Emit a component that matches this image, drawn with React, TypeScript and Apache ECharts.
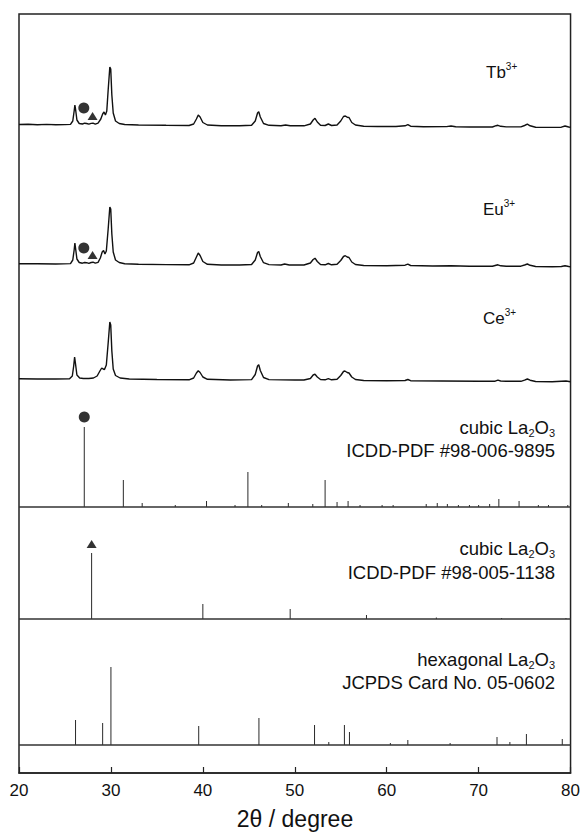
import React, { useEffect, useRef } from "react";
import * as echarts from "echarts";

const FONT = "'Liberation Sans', Arial, Helvetica, sans-serif";

// x axis (2θ, degree)
const xMin = 20;
const xMax = 80;
const xStep = 10;

// vertical offsets of each pattern (same units as the intensities)
const offsetTb = 648;
const offsetEu = 509;
const offsetCe = 394;
const offsetCubicA = 266;
const offsetCubicB = 154;
const offsetHex = 28;
const yTop = 759;

// measured XRD traces: [2θ, intensity a.u.]
const traceTb: number[][] = [
  [20, 0.5], [21, 0.8], [22, 0.3], [23, 0.6], [24, 0.2], [25, 0.4], [25.6, 0.6], [25.85, 4], [26.0, 14], [26.08, 20],
  [26.15, 16], [26.3, 5], [26.55, 1.5], [26.9, 1], [27.15, 1.8], [27.35, 1.5], [27.6, 0.8], [27.85, 1.6], [28.05, 1.9],
  [28.3, 0.9], [28.6, 1.8], [28.9, 6], [29.1, 11], [29.25, 13], [29.4, 10], [29.55, 14], [29.7, 35], [29.88, 58],
  [29.98, 56], [30.1, 30], [30.25, 12], [30.5, 4], [30.9, 1.5], [31.5, 0.5], [33, 0], [36, -0.3], [38.5, -0.5],
  [39.0, 1], [39.3, 6], [39.5, 10], [39.7, 8], [40.0, 2.5], [40.5, 0], [42, -0.8], [44, -0.8], [45.3, -0.3],
  [45.7, 4], [45.95, 12], [46.08, 13.3], [46.25, 8], [46.6, 1.5], [47.2, -0.3], [48.5, -0.7], [49.0, 0], [49.5, -0.8],
  [51.0, -0.8], [51.7, 1], [52.0, 5], [52.2, 6.7], [52.45, 3], [52.8, -0.2], [53.3, -0.5], [53.65, 1], [54.0, -0.5],
  [54.6, 0], [55.0, 4], [55.3, 8.5], [55.5, 9], [55.7, 7.8], [55.9, 7.5], [56.2, 2.5], [56.6, 0], [57.5, -1.3],
  [59, -1.5], [61, -1.5], [62.0, -0.8], [62.3, 0.3], [62.6, -1.2], [64, -1.8], [66.5, -1.6], [67.0, -1], [67.5, -1.8],
  [69, -2], [71.5, -2], [71.9, -0.7], [72.1, -0.3], [72.4, -1.3], [73, -1.9], [74.6, -1.9], [75.0, -0.5], [75.3, 0.8],
  [75.6, -0.8], [76.2, -2.2], [78, -2.4], [79.0, -2.2], [79.4, -1], [79.8, -2], [80, -2.3],
];

const traceEu: number[][] = [
  [20, 0.3], [22, 0.2], [24, 0], [25.6, 0.4], [25.85, 4], [26.0, 14], [26.08, 21], [26.15, 16], [26.3, 5], [26.55, 1.5],
  [26.9, 0.8], [27.15, 1.5], [27.35, 1.3], [27.6, 0.6], [27.85, 1.5], [28.05, 1.8], [28.3, 0.8], [28.6, 1.6],
  [28.85, 6], [29.05, 12], [29.2, 13.5], [29.35, 10], [29.5, 13], [29.7, 35], [29.88, 57], [29.98, 55], [30.1, 30],
  [30.25, 12], [30.5, 4], [30.9, 1.5], [31.5, 0.3], [33, -0.3], [36, -0.6], [38.5, -0.8], [39.0, 1], [39.3, 7],
  [39.5, 11], [39.7, 8.5], [40.0, 2.5], [40.5, -0.3], [42, -1], [44, -1], [45.3, -0.5], [45.7, 4], [45.95, 11.5],
  [46.08, 12.5], [46.25, 7.5], [46.6, 1.3], [47.2, -0.6], [48.5, -1], [48.9, 0], [49.4, -1], [51.0, -1], [51.7, 1],
  [52.0, 4.5], [52.2, 5.8], [52.45, 2.5], [52.8, -0.5], [53.3, -0.8], [53.65, 0.5], [54.0, -0.8], [54.6, -0.3],
  [55.0, 3.5], [55.3, 7.5], [55.5, 8.3], [55.7, 7], [55.9, 6.5], [56.2, 2], [56.6, -0.5], [57.5, -1.5], [60, -1.8],
  [62.0, -1.2], [62.3, -0.2], [62.6, -1.5], [65, -2], [67, -1.8], [69, -2.2], [71.5, -2.3], [71.9, -1.3], [72.1, -0.8],
  [72.4, -1.8], [73, -2.2], [74.6, -2.2], [75.0, -1], [75.3, 0], [75.6, -1.3], [76.2, -2.5], [78, -2.7], [79.0, -2.5],
  [79.4, -1.7], [79.8, -2.5], [80, -2.8],
];

const traceCe: number[][] = [
  [20, 0.3], [22, 0], [24, 0], [25.5, 0.3], [25.8, 3], [25.95, 13], [26.05, 22], [26.15, 15], [26.3, 4], [26.6, 1],
  [27, 0.5], [27.6, 0.5], [28.1, 1], [28.5, 3], [28.8, 8], [29.0, 11], [29.15, 10], [29.3, 9.5], [29.5, 14],
  [29.7, 36], [29.88, 57], [29.98, 54], [30.1, 28], [30.25, 10], [30.5, 3.5], [31, 1], [32, 0], [35, -0.5],
  [38.5, -0.8], [39.0, 1], [39.3, 6], [39.5, 8.3], [39.7, 6.5], [40.0, 2], [40.5, -0.3], [43, -1], [45.3, -0.6],
  [45.7, 4.5], [45.95, 13], [46.08, 14.3], [46.25, 8.5], [46.6, 1.5], [47.2, -0.6], [50, -1], [51.0, -1], [51.7, 0.5],
  [52.0, 4], [52.2, 4.8], [52.45, 2], [52.8, -0.5], [53.3, -0.8], [53.65, 0.3], [54.0, -0.8], [54.6, -0.3], [55.0, 3.5],
  [55.3, 7.5], [55.45, 8], [55.7, 6.5], [55.9, 6], [56.2, 2], [56.6, -0.5], [57.5, -1.5], [60, -1.8], [62.0, -1.5],
  [62.3, -0.5], [62.6, -1.7], [66, -2], [70, -2.3], [71.8, -2.2], [72.1, -1.2], [72.4, -2], [73, -2.3], [74.6, -2.3],
  [75.0, -1.2], [75.3, 0], [75.6, -1.2], [76.2, -2.5], [78, -2.7], [79.5, -2], [80, -2.8],
];

// reference patterns: [2θ, relative intensity]
const cubicA: number[][] = [
  [27.1, 80], [31.35, 27], [33.4, 4], [37.0, 2], [40.4, 6], [43.5, 2], [44.9, 35], [46.4, 2], [49.3, 4], [51.96, 3],
  [53.3, 27], [54.6, 5], [55.8, 6], [57.1, 2], [59.5, 2], [60.7, 2], [64.3, 3], [65.5, 4], [66.6, 3], [67.8, 2],
  [69.0, 2], [70.0, 2], [71.2, 3], [72.2, 8], [74.4, 6], [76.5, 2], [77.6, 2], [79.7, 2],
];
const cubicB: number[][] = [
  [27.9, 66], [40.0, 15], [49.5, 10], [57.8, 4], [65.4, 1.5], [72.5, 1], [79.5, 1],
];
const hexPattern: number[][] = [
  [26.15, 25], [29.1, 22], [30.0, 78], [39.55, 19], [46.1, 27], [52.15, 20], [53.7, 3], [55.4, 20], [55.95, 13],
  [60.4, 2], [62.3, 5], [66.9, 2], [72.0, 8], [73.4, 3], [75.2, 11], [79.1, 6],
];

// phase markers: [2θ, height above the pattern's offset]
const circleMarksTrace: number[][] = [[27.05, 17], [27.05, 16]];
const triangleMarksTrace: number[][] = [[28.0, 9], [28.0, 9]];
const circleMarkStick: number[] = [27.1, 90];
const triangleMarkStick: number[] = [27.9, 75];

const shift = (data: number[][], off: number) => data.map(([x, y]) => [x, y + off]);

function stickSeries(data: number[][], base: number) {
  return {
    type: "custom",
    coordinateSystem: "cartesian2d",
    silent: true,
    clip: false,
    data,
    encode: { x: 0, y: 1 },
    renderItem: (_p: any, api: any) => {
      const x = api.value(0);
      const h = api.value(1);
      const p0 = api.coord([x, base]);
      const p1 = api.coord([x, base + h]);
      return {
        type: "line",
        shape: { x1: p0[0], y1: p0[1], x2: p1[0], y2: p1[1] },
        style: { stroke: "#2a2a2a", lineWidth: 1 },
      };
    },
  };
}

function baseLine(base: number) {
  return {
    type: "line",
    silent: true,
    symbol: "none",
    data: [[xMin, base], [xMax, base]],
    lineStyle: { color: "#333", width: 1.5 },
  };
}

function traceSeries(data: number[][], off: number) {
  return {
    type: "line",
    silent: true,
    symbol: "none",
    data: shift(data, off),
    lineStyle: { color: "#111", width: 1.4 },
  };
}

const rich = {
  m: { fontSize: 18.5, fontFamily: FONT, fill: "#111", lineHeight: 22 },
  i: { fontSize: 17, fontFamily: FONT, fill: "#111", lineHeight: 22 },
  sup: { fontSize: 10, fontFamily: FONT, fill: "#111", verticalAlign: "top" },
  sub: { fontSize: 11, fontFamily: FONT, fill: "#111", verticalAlign: "bottom" },
};

function label(text: string, x: number, y: number, align: "left" | "right") {
  return {
    type: "text",
    x,
    y,
    silent: true,
    style: { text, rich, align, verticalAlign: "middle", fill: "#111" },
  };
}

export default function App() {
  const ref = useRef<HTMLDivElement>(null);

  useEffect(() => {
    if (!ref.current) return;
    const chart = echarts.init(ref.current, undefined, { renderer: "svg" });
    chart.setOption({
      animation: false,
      backgroundColor: "#fff",
      grid: {
        left: 19,
        right: 11,
        top: 14,
        bottom: 61,
        show: true,
        borderColor: "#222",
        borderWidth: 1.5,
        backgroundColor: "transparent",
      },
      xAxis: {
        type: "value",
        min: xMin,
        max: xMax,
        interval: xStep,
        axisLine: { show: true, lineStyle: { color: "#222", width: 1.5 } },
        axisTick: { show: true, inside: true, length: 6, lineStyle: { color: "#222", width: 1.2 } },
        axisLabel: { color: "#111", fontSize: 17, fontFamily: FONT, margin: 9 },
        splitLine: { show: false },
      },
      yAxis: {
        type: "value",
        min: 0,
        max: yTop,
        show: false,
        splitLine: { show: false },
      },
      series: [
        traceSeries(traceTb, offsetTb),
        traceSeries(traceEu, offsetEu),
        traceSeries(traceCe, offsetCe),
        baseLine(offsetCubicA),
        baseLine(offsetCubicB),
        baseLine(offsetHex),
        stickSeries(cubicA, offsetCubicA),
        stickSeries(cubicB, offsetCubicB),
        stickSeries(hexPattern, offsetHex),
        {
          type: "scatter",
          silent: true,
          symbol: "circle",
          symbolSize: 11,
          itemStyle: { color: "#000" },
          data: [
            [circleMarksTrace[0][0], circleMarksTrace[0][1] + offsetTb],
            [circleMarksTrace[1][0], circleMarksTrace[1][1] + offsetEu],
            [circleMarkStick[0], circleMarkStick[1] + offsetCubicA],
          ],
        },
        {
          type: "scatter",
          silent: true,
          symbol: "triangle",
          symbolSize: [10, 8],
          itemStyle: { color: "#000" },
          data: [
            [triangleMarksTrace[0][0], triangleMarksTrace[0][1] + offsetTb],
            [triangleMarksTrace[1][0], triangleMarksTrace[1][1] + offsetEu],
            [triangleMarkStick[0], triangleMarkStick[1] + offsetCubicB],
          ],
        },
      ],
      graphic: [
        label("{i|Tb}{sup|3+}", 486, 72, "left"),
        label("{i|Eu}{sup|3+}", 483, 209, "left"),
        label("{i|Ce}{sup|3+}", 483, 318, "left"),
        label("{m|cubic La}{sub|2}{m|O}{sub|3}", 555, 427, "right"),
        label("{m|ICDD-PDF #98-006-9895}", 555, 450, "right"),
        label("{m|cubic La}{sub|2}{m|O}{sub|3}", 555, 548, "right"),
        label("{m|ICDD-PDF #98-005-1138}", 555, 572, "right"),
        label("{m|hexagonal La}{sub|2}{m|O}{sub|3}", 555, 659, "right"),
        label("{m|JCPDS Card No. 05-0602}", 555, 682, "right"),
        {
          type: "text",
          x: 295,
          y: 819,
          silent: true,
          style: {
            text: "2θ / degree",
            font: `23px ${FONT}`,
            fill: "#111",
            align: "center",
            verticalAlign: "middle",
          },
        },
      ],
    });
    return () => chart.dispose();
  }, []);

  return (
    <div
      ref={ref}
      style={{ position: "fixed", left: 0, top: 0, width: 583, height: 834, background: "#fff" }}
    />
  );
}
